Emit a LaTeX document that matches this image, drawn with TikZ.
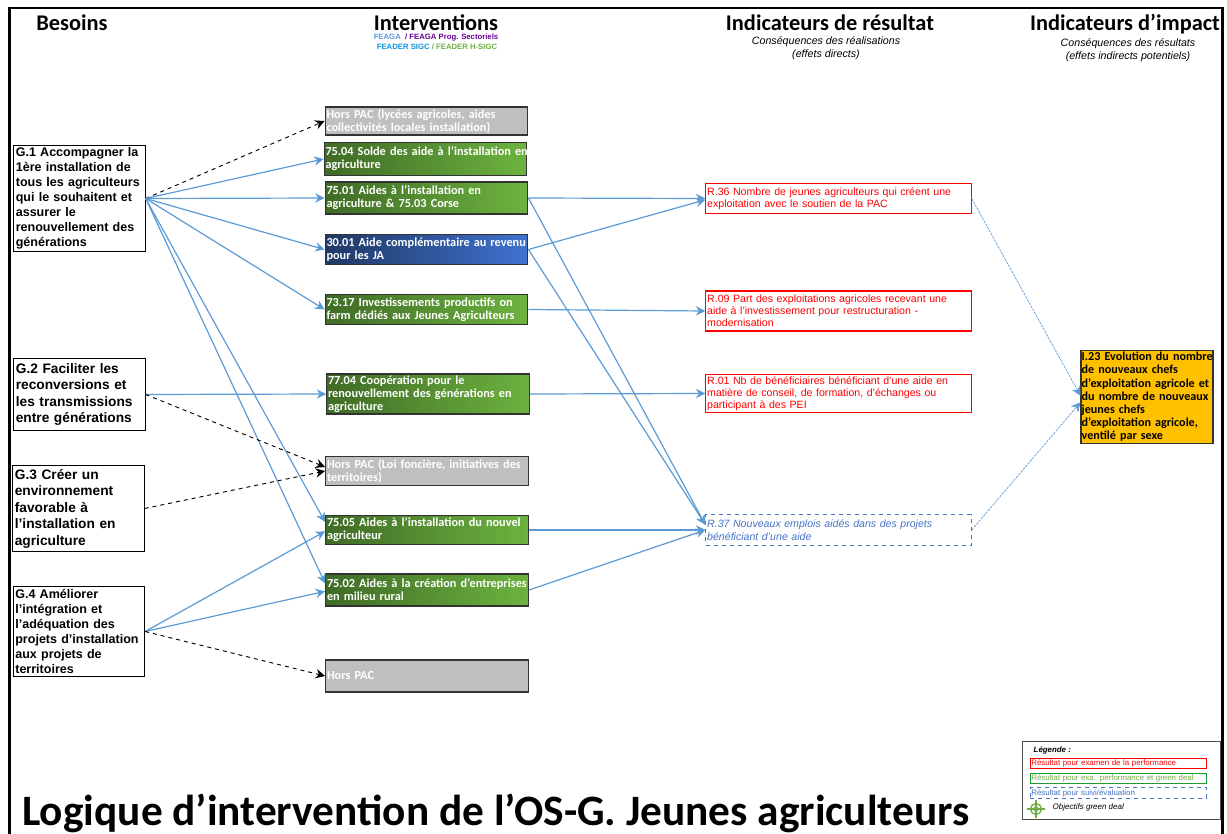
\documentclass[tikz,border=0pt]{standalone}
\usepackage{fontspec}
\setmainfont{Liberation Sans}
\newfontfamily\carlito{Carlito}
\usetikzlibrary{arrows.meta}

\definecolor{bleufleche}{HTML}{5B9BD5}
\definecolor{vertfonce}{HTML}{3F6B26}
\definecolor{vertclair}{HTML}{6DB33F}
\definecolor{bleufonce}{HTML}{1F3864}
\definecolor{bleuclair}{HTML}{3F72CF}
\definecolor{gris}{HTML}{BFBFBF}
\definecolor{orange}{HTML}{FFC000}
\definecolor{rouge}{HTML}{FF0000}
\definecolor{bleuR}{HTML}{4472C4}
\definecolor{vertlegende}{HTML}{1E9A32}
\definecolor{vertcible}{HTML}{70AD47}

\tikzset{
    titre/.style = {anchor=base, inner sep=0pt, font=\carlito\bfseries\fontsize{16.8}{18}\selectfont},
    soustitre/.style = {font=\itshape\fontsize{8}{9.75}\selectfont, align=center},
    financement/.style = {inner sep=0pt, font=\bfseries\fontsize{5.8}{7}\selectfont},
    besoin/.style = {draw=black, line width=0.7pt, fill=white, align=left, text width=95.5pt, inner sep=1.5pt, font=\bfseries\fontsize{9.4}{11.2}\selectfont},
    besoinlarge/.style = {besoin, font=\bfseries\fontsize{10.3}{12.4}\selectfont},
    interv/.style = {draw=black!80, line width=0.9pt, text width=150pt, inner sep=1pt, align=left, text=white, font=\carlito\bfseries\fontsize{9.2}{9.8}\selectfont},
    vert/.style = {interv, left color=vertfonce, right color=vertclair},
    bleu/.style = {interv, left color=bleufonce, right color=bleuclair},
    horspac/.style = {interv, fill=gris},
    resultat/.style = {draw=rouge, line width=0.8pt, text=rouge, minimum width=198.75pt, text width=197pt, inner sep=1pt, align=left, font=\fontsize{7.95}{9}\selectfont},
    suivi/.style = {resultat, draw=bleuR, text=bleuR, dashed, font=\itshape\fontsize{7.95}{9.6}\selectfont},
    impact/.style = {draw=black!80, line width=0.8pt, fill=orange, minimum width=99pt, text width=98pt, inner sep=0.5pt, align=left, font=\carlito\bfseries\fontsize{9.1}{9.9}\selectfont},
    lien/.style = {->, draw=bleufleche, line width=0.9pt},
    horslien/.style = {->, draw=black, line width=0.7pt, dashed},
    lienimpact/.style = {->, draw=bleufleche, line width=0.5pt, dash pattern=on 2pt off 0.7pt},
    legende/.style = {line width=0.7pt, minimum width=132pt, minimum height=8pt, text width=130pt, inner sep=0.5pt, align=left, font=\fontsize{5.9}{6}\selectfont},
}

\begin{document}
\begin{tikzpicture}[x=0.75pt, y=-0.75pt, >={Stealth[length=7pt,width=7pt]}]

% Cadre

    \useasboundingbox (0,0) rectangle (1227,834);
    \draw[line width=2pt] (9.5,834) -- (9.5,8) -- (1222.5,8) -- (1222.5,834);

% Titres

    \node[titre] (tbesoins) at (72,31) {Besoins};
    \node[titre] (tinterv) at (436,31) {Interventions};
    \node[titre] (tresultat) at (830,31) {Indicateurs de résultat};
    \node[titre] (timpact) at (1125,31) {Indicateurs d’impact};
    \node[financement] (fin1) at (436,37.5) {\textcolor{bleufleche}{FEAGA} \ \textcolor{violet!80!blue}{/ FEAGA Prog. Sectoriels}};
    \node[financement] (fin2) at (437,46.5) {\textcolor{cyan!80!blue}{FEADER SIGC} \textcolor{vertcible}{/ FEADER H-SIGC}};
    \node[soustitre] (sresultat) at (826,48.5) {Conséquences des réalisations\\(effets directs)};
    \node[soustitre] (simpact) at (1128,50) {Conséquences des résultats\\(effets indirects potentiels)};

% Besoins

    \node[besoin, minimum height=77pt] (g1) at (79.5,198.5) {G.1 Accompagner la\\1ère installation de\\tous les agriculteurs\\qui le souhaitent et\\assurer le\\renouvellement des\\générations};
    \node[besoinlarge, minimum height=54pt] (g2) at (79.5,394.5) {G.2 Faciliter les\\reconversions et\\les transmissions\\entre générations};
    \node[besoinlarge, minimum height=64pt] (g3) at (78.5,508.5) {G.3 Créer un\\environnement\\favorable à\\l’installation en\\agriculture};
    \node[besoin, minimum height=68pt] (g4) at (79,631.5) {G.4 Améliorer\\l’intégration et\\l’adéquation des\\projets d’installation\\aux projets de\\territoires};

% Interventions

    \node[horspac, minimum height=21pt] (hors1) at (426.5,121) {Hors PAC (lycées agricoles, aides\\collectivités locales installation)};
    \node[vert, minimum height=25pt] (m7504) at (425.5,159) {\mbox{75.04 Solde des aide à l’installation en}\\agriculture};
    \node[vert, minimum height=24pt] (m7501) at (426.5,198) {75.01 Aides à l’installation en\\agriculture \& 75.03 Corse};
    \node[bleu, minimum height=23pt] (m3001) at (426.5,249.5) {30.01 Aide complémentaire au revenu\\pour les JA};
    \node[vert, minimum height=23pt] (m7317) at (426.5,309.5) {73.17 Investissements productifs on\\farm dédiés aux Jeunes Agriculteurs};
    \node[vert, minimum height=30pt] (m7704) at (428,394) {77.04 Coopération pour le\\renouvellement des générations en\\agriculture};
    \node[horspac, minimum height=22pt] (hors2) at (427,471) {Hors PAC (Loi foncière, initiatives des\\territoires)};
    \node[vert, minimum height=22pt] (m7505) at (427,530) {75.05 Aides à l’installation du nouvel\\agriculteur};
    \node[vert, minimum height=24pt] (m7502) at (427,590) {75.02 Aides à la création d’entreprises\\en milieu rural};
    \node[horspac, minimum height=24pt] (hors3) at (427,676) {Hors PAC};

% Indicateurs

    \node[resultat, minimum height=23pt] (r36) at (838.5,198.5) {R.36 Nombre de jeunes agriculteurs qui créent une\\exploitation avec le soutien de la PAC};
    \node[resultat, minimum height=30pt] (r09) at (838.5,311) {R.09 Part des exploitations agricoles recevant une\\aide à l’investissement pour restructuration -\\modernisation};
    \node[resultat, minimum height=28pt] (r01) at (838.5,393.5) {R.01 Nb de bénéficiaires bénéficiant d’une aide en\\matière de conseil, de formation, d’échanges ou\\participant à des PEI};
    \node[suivi, minimum height=23pt] (r37) at (838.5,530) {R.37 Nouveaux emplois aidés dans des projets\\bénéficiant d’une aide};
    \node[impact, minimum height=70pt] (i23) at (1147,397) {\mbox{I.23 Evolution du nombre}\\de nouveaux chefs\\d’exploitation agricole et\\du nombre de nouveaux\\jeunes chefs\\d’exploitation agricole,\\ventilé par sexe};

% Liens besoins - interventions

    \draw[horslien] (g1.east) -- (hors1.west);
    \draw[lien] (g1.east) -- (m7504.west);
    \draw[lien] (g1.east) -- (m7501.west);
    \draw[lien] (g1.east) -- (m3001.west);
    \draw[lien] (g1.east) -- (m7317.west);
    \draw[lien] (g1.east) -- ([yshift=6pt]m7505.west);
    \draw[lien] (g1.east) -- ([yshift=5pt]m7502.west);
    \draw[lien] (g2.east) -- (m7704.west);
    \draw[horslien] (g2.east) -- ([yshift=3pt]hors2.west);
    \draw[horslien] (g3.east) -- (hors2.west);
    \draw[lien] (g4.east) -- ([yshift=-1pt]m7505.west);
    \draw[lien] (g4.east) -- ([yshift=-1pt]m7502.west);
    \draw[horslien] (g4.east) -- (hors3.west);

% Liens interventions - indicateurs

    \draw[lien] (m7501.east) -- (r36.west);
    \draw[lien] (m3001.east) -- ([yshift=-1pt]r36.west);
    \draw[lien] (m7317.east) -- (r09.west);
    \draw[lien] (m7704.east) -- (r01.west);
    \draw[lien] (m7501.east) -- ([yshift=4pt]r37.west);
    \draw[lien] (m3001.east) -- ([yshift=4pt]r37.west);
    \draw[lien] (m7505.east) -- (r37.west);
    \draw[lien] (m7502.east) -- (r37.west);

% Liens indicateurs - impact

    \draw[lienimpact] (r36.east) -- ([yshift=1pt]i23.west);
    \draw[lienimpact] (r37.east) -- ([yshift=-4pt]i23.west);

% Titre principal

    \node[font=\carlito\bfseries\fontsize{32.5}{36}\selectfont, anchor=base west, inner sep=0pt] (principal) at (22,825.5) {Logique d’intervention de l’OS-G. Jeunes agriculteurs};

% Légende

    \node[draw=black!70, line width=0.7pt, fill=white, minimum width=148.5pt, minimum height=58.5pt] (cadreleg) at (1121,780) {};
    \node[font=\bfseries\itshape\fontsize{5.9}{6}\selectfont, anchor=west] (tleg) at (1029,750) {Légende :};
    \node[legende, draw=rouge, text=rouge] (leg1) at (1118,763.5) {Résultat pour examen de la performance};
    \node[legende, draw=vertlegende, text=vertcible] (leg2) at (1118,778.5) {Résultat pour exa. performance et green deal};
    \node[legende, draw=bleuR, text=bleuR, dashed] (leg3) at (1118,793) {Résultat pour suivi/évaluation};
    \node[font=\itshape\fontsize{6}{6}\selectfont, anchor=west] (leg4) at (1048,807) {Objectifs green deal};

    \draw[vertcible, line width=1pt] (1036,809) circle (5.5);
    \filldraw[vertcible, fill=vertcible!60] (1036,809) circle (2.5);
    \draw[vertcible, line width=1pt] (1036,800) -- (1036,818);
    \draw[vertcible, line width=1pt] (1027,809) -- (1045,809);

\end{tikzpicture}
\end{document}
